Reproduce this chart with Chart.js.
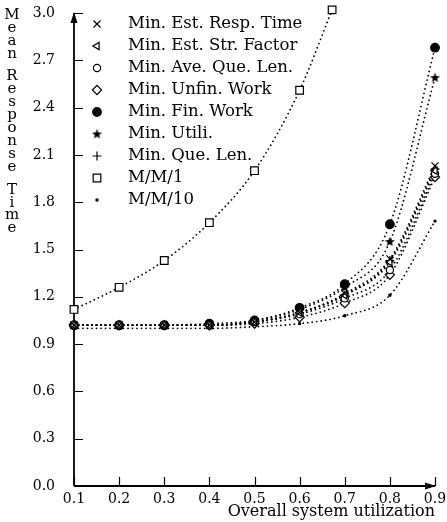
<!DOCTYPE html>
<html>
<head>
<meta charset="utf-8">
<script src="https://cdn.jsdelivr.net/npm/chart.js@4"></script>
<style>
  html, body { margin: 0; padding: 0; background: #fff; }
  canvas { display: block; }
</style>
</head>
<body>
<canvas id="chart" width="447" height="522"></canvas>
<script>
// values
const utilization = [0.1, 0.2, 0.3, 0.4, 0.5, 0.6, 0.7, 0.8, 0.9];
const minEstRespTime = [1.02, 1.02, 1.02, 1.02, 1.04, 1.10, 1.22, 1.44, 2.03];
const minEstStrFactor = [1.02, 1.02, 1.02, 1.02, 1.04, 1.10, 1.21, 1.42, 2.00];
const minAveQueLen = [1.02, 1.02, 1.02, 1.02, 1.04, 1.09, 1.19, 1.37, 1.98];
const minUnfinWork = [1.02, 1.02, 1.02, 1.02, 1.03, 1.07, 1.16, 1.34, 1.96];
const minFinWork = [1.02, 1.02, 1.02, 1.03, 1.05, 1.13, 1.28, 1.66, 2.78];
const minUtili = [1.02, 1.02, 1.02, 1.02, 1.05, 1.12, 1.26, 1.55, 2.59];
const minQueLen = [1.02, 1.02, 1.02, 1.02, 1.04, 1.10, 1.21, 1.43, 2.01];
const mm10 = [1.00, 1.00, 1.00, 1.00, 1.01, 1.03, 1.08, 1.21, 1.68];
const mm1Util = [0.1, 0.2, 0.3, 0.4, 0.5, 0.6, 0.672];
const mm1 = [1.12, 1.26, 1.43, 1.67, 2.00, 2.51, 3.02];

const xTicks = [0.1, 0.2, 0.3, 0.4, 0.5, 0.6, 0.7, 0.8, 0.9];
const yTicks = [0.0, 0.3, 0.6, 0.9, 1.2, 1.5, 1.8, 2.1, 2.4, 2.7, 3.0];
const xTitle = 'Overall system utilization';
const yTitle = 'Mean Response Time';

const SERIF = '"DejaVu Serif", serif';

// filled star marker
const star = document.createElement('canvas');
star.width = 11; star.height = 11;
(function () {
  const c = star.getContext('2d');
  c.fillStyle = '#000';
  c.beginPath();
  for (let i = 0; i < 10; i++) {
    const r = i % 2 ? 2.2 : 5.3;
    const a = -Math.PI / 2 + i * Math.PI / 5;
    c.lineTo(5.5 + r * Math.cos(a), 5.8 + r * Math.sin(a));
  }
  c.closePath();
  c.fill();
})();

function series(label, xs, ys, style, radius, fill, rotation) {
  return {
    label: label,
    data: xs.map((x, i) => ({ x: x, y: ys[i] })),
    borderColor: '#000',
    borderWidth: 1.8,
    borderDash: [0, 4.5],
    borderCapStyle: 'round',
    cubicInterpolationMode: 'monotone',
    pointStyle: style,
    pointRadius: radius,
    pointRotation: rotation || 0,
    pointBackgroundColor: fill,
    pointBorderColor: '#000',
    pointBorderWidth: 1.2,
    clip: false
  };
}

const datasets = [
  series('Min. Est. Resp. Time', utilization, minEstRespTime, 'crossRot', 5, '#000'),
  series('Min. Est. Str. Factor', utilization, minEstStrFactor, 'triangle', 4.2, '#fff', -90),
  series('Min. Ave. Que. Len.', utilization, minAveQueLen, 'circle', 3.6, '#fff'),
  series('Min. Unfin. Work', utilization, minUnfinWork, 'rectRot', 4.6, '#fff'),
  series('Min. Fin. Work', utilization, minFinWork, 'circle', 4.3, '#000'),
  series('Min. Utili.', utilization, minUtili, star, 5, '#000'),
  series('Min. Que. Len.', utilization, minQueLen, 'cross', 4.5, '#000'),
  series('M/M/1', mm1Util, mm1, 'rect', 5.4, '#fff'),
  series('M/M/10', utilization, mm10, 'circle', 1.1, '#000')
];

// axes with inward ticks and arrow heads
const axesPlugin = {
  id: 'axesPlugin',
  beforeDatasetsDraw(chart) {
    const { ctx, chartArea: a, scales: { x, y } } = chart;
    ctx.save();
    ctx.strokeStyle = '#000';
    ctx.fillStyle = '#000';
    ctx.lineWidth = 1.8;
    ctx.beginPath();
    ctx.moveTo(a.left, a.bottom); ctx.lineTo(a.left, a.top);
    ctx.moveTo(a.left, a.bottom); ctx.lineTo(a.right, a.bottom);
    ctx.stroke();
    ctx.lineWidth = 1.2;
    ctx.beginPath();
    yTicks.forEach(v => {
      const py = Math.round(y.getPixelForValue(v)) + 0.5;
      ctx.moveTo(a.left, py); ctx.lineTo(a.left + 9, py);
    });
    xTicks.forEach(v => {
      const px = Math.round(x.getPixelForValue(v)) + 0.5;
      ctx.moveTo(px, a.bottom); ctx.lineTo(px, a.bottom - 9);
    });
    ctx.stroke();
    ctx.beginPath();
    ctx.moveTo(a.left, a.top - 1); ctx.lineTo(a.left - 3.5, a.top + 10); ctx.lineTo(a.left + 3.5, a.top + 10);
    ctx.closePath();
    ctx.moveTo(a.right + 1, a.bottom); ctx.lineTo(a.right - 10, a.bottom - 3.5); ctx.lineTo(a.right - 10, a.bottom + 3.5);
    ctx.closePath();
    ctx.fill();
    ctx.restore();
  }
};

// stacked y title + legend inside plot
const textPlugin = {
  id: 'textPlugin',
  afterDraw(chart) {
    const ctx = chart.ctx;
    ctx.save();
    ctx.fillStyle = '#000';
    ctx.textBaseline = 'middle';
    ctx.textAlign = 'center';
    ctx.font = '15px ' + SERIF;
    let ty = 15;
    for (const ch of yTitle) {
      if (ch === ' ') { ty += 10; continue; }
      ctx.fillText(ch, 12, ty);
      ty += 12.9;
    }

    ctx.textAlign = 'left';
    ctx.font = '16.5px ' + SERIF;
    chart.data.datasets.forEach((ds, i) => {
      const ly = 24 + i * 22;
      ctx.strokeStyle = '#000';
      ctx.fillStyle = ds.pointBackgroundColor;
      ctx.lineWidth = ds.pointBorderWidth;
      Chart.helpers.drawPoint(ctx, {
        pointStyle: ds.pointStyle,
        radius: ds.pointRadius,
        rotation: ds.pointRotation,
        borderWidth: ds.pointBorderWidth
      }, 97, ly);
      ctx.fillStyle = '#000';
      ctx.fillText(ds.label, 128, ly);
    });
    ctx.restore();
  }
};

new Chart(document.getElementById('chart'), {
  type: 'line',
  data: { datasets: datasets },
  options: {
    responsive: false,
    animation: false,
    layout: { padding: { top: 13, right: 12, bottom: 0, left: 0 } },
    plugins: {
      legend: { display: false },
      tooltip: { enabled: false }
    },
    scales: {
      x: {
        type: 'linear',
        min: 0.1,
        max: 0.9,
        afterBuildTicks: s => { s.ticks = xTicks.map(v => ({ value: v })); },
        afterFit: s => { s.height = 36; s.paddingLeft = 0; s.paddingRight = 0; },
        grid: { display: false, drawTicks: false },
        border: { display: false },
        ticks: {
          padding: 5,
          color: '#000',
          font: { family: SERIF, size: 14 },
          callback: v => v.toFixed(1)
        },
        title: {
          display: true,
          text: xTitle,
          align: 'end',
          color: '#000',
          font: { family: SERIF, size: 16 },
          padding: { top: 0, bottom: 1 }
        }
      },
      y: {
        min: 0,
        max: 3,
        afterBuildTicks: s => { s.ticks = yTicks.map(v => ({ value: v })); },
        afterFit: s => { s.width = 74; s.paddingTop = 0; s.paddingBottom = 0; },
        grid: { display: false, drawTicks: false },
        border: { display: false },
        ticks: {
          padding: 19,
          color: '#000',
          font: { family: SERIF, size: 14 },
          callback: v => v.toFixed(1)
        }
      }
    }
  },
  plugins: [axesPlugin, textPlugin]
});
</script>
</body>
</html>
